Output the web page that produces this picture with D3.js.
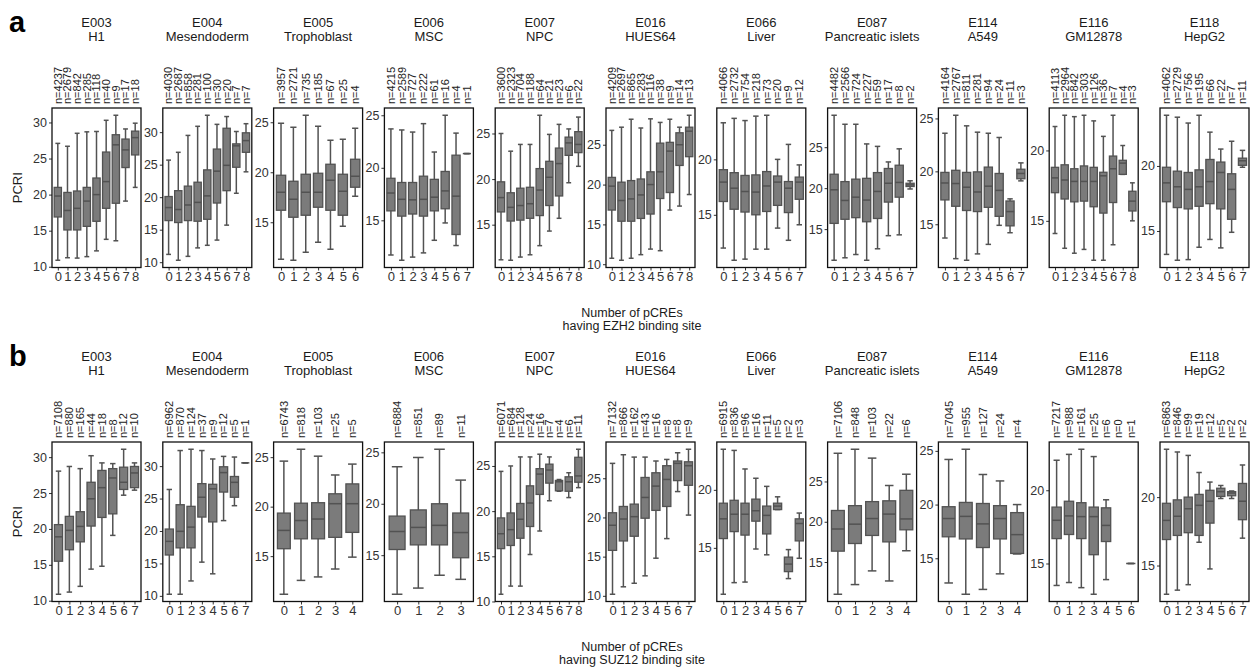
<!DOCTYPE html>
<html>
<head>
<meta charset="utf-8">
<script src="https://cdn.jsdelivr.net/npm/d3@7"></script>
<style>
  html, body { margin: 0; padding: 0; background: #fff; }
  svg text { font-family: "Liberation Sans", Arial, Helvetica, sans-serif; }
</style>
</head>
<body>
<svg id="chart" width="1250" height="670"></svg>
<script>
// Roadmap epigenomes shown in each row
const cellLines = ["E003", "E004", "E005", "E006", "E007", "E016", "E066", "E087", "E114", "E116", "E118"];
const cellTypes = ["H1", "Mesendoderm", "Trophoblast", "MSC", "NPC", "HUES64", "Liver", "Pancreatic islets", "A549", "GM12878", "HepG2"];

// Group sizes: number of pCREs with 0,1,2,... EZH2 binding sites
const ezh2Counts = [
  [4237, 2679, 842, 285, 118, 40, 9, 17, 18],
  [4030, 2687, 858, 281, 100, 30, 20, 7, 7],
  [3957, 2721, 735, 185, 67, 25, 4],
  [4215, 2589, 727, 222, 61, 16, 4, 1],
  [3600, 2323, 704, 188, 64, 21, 23, 6, 22],
  [4209, 2697, 865, 283, 116, 38, 9, 14, 13],
  [4066, 2732, 754, 218, 73, 20, 9, 12],
  [4482, 2566, 724, 227, 59, 17, 8, 2],
  [4164, 2767, 811, 281, 94, 24, 11, 3],
  [4113, 2964, 842, 303, 126, 36, 7, 4, 3],
  [4062, 2729, 756, 195, 66, 22, 7, 11]
];

// PCRI box statistics per group: [lower whisker, Q1, median, Q3, upper whisker]
const ezh2Stats = [
  [[10.9, 16.9, 19.8, 21.0, 27.1], [11.25, 15.1, 17.8, 20.3, 26.7], [11.2, 15.1, 18.1, 20.5, 28.5],
   [11.4, 15.6, 19.1, 21.0, 28.7], [12.2, 16.3, 20.0, 22.3, 28.75], [13.8, 18.1, 21.8, 25.9, 30.3],
   [13.6, 18.8, 26.9, 28.3, 31.0], [19.1, 23.75, 26.2, 27.7, 29.1], [21.0, 25.5, 27.9, 28.8, 29.9]],
  [[11.2, 16.4, 18.4, 20.1, 25.7], [10.3, 16.1, 18.1, 21.0, 26.9], [10.9, 16.4, 18.8, 21.7, 29.5],
   [12.2, 16.3, 19.2, 22.3, 30.9], [12.6, 16.6, 20.2, 24.2, 32.6], [13.4, 19.1, 24.0, 27.4, 31.2],
   [15.7, 21.0, 24.9, 30.6, 32.4], [20.6, 24.6, 27.9, 28.2, 30.1], [23.9, 26.9, 28.7, 29.9, 31.3]],
  [[11.3, 16.2, 18.0, 19.7, 24.9], [11.2, 15.5, 17.3, 19.1, 24.5], [12.0, 15.7, 18.0, 19.8, 25.7],
   [13.0, 16.5, 18.0, 19.9, 24.6], [12.3, 16.2, 19.2, 20.8, 23.2], [14.6, 15.7, 18.1, 19.8, 23.3],
   [17.6, 18.5, 19.6, 21.3, 24.4]],
  [[11.7, 15.9, 17.6, 19.0, 23.7], [11.2, 15.4, 17.0, 18.6, 23.6], [11.5, 15.6, 16.95, 18.6, 23.4],
   [11.9, 15.4, 17.0, 19.2, 24.2], [13.1, 15.9, 17.2, 18.9, 21.5], [14.75, 16.1, 17.8, 19.65, 25.0],
   [12.6, 13.65, 17.3, 21.2, 23.3], [21.35, 21.35, 21.35, 21.35, 21.35]],
  [[11.15, 16.4, 17.97, 19.7, 25.0], [11.1, 15.4, 16.9, 18.5, 23.06], [11.45, 15.5, 17.1, 19.0, 23.8],
   [11.7, 15.7, 17.3, 19.1, 23.8], [12.7, 16.0, 18.8, 21.15, 27.0], [14.3, 17.1, 20.2, 21.95, 24.9],
   [15.7, 18.15, 21.7, 23.4, 26.0], [19.6, 22.6, 23.97, 24.6, 25.5], [21.4, 22.9, 23.8, 25.2, 26.8]],
  [[10.75, 16.8, 19.8, 20.9, 26.8], [10.5, 15.4, 18.0, 20.3, 27.2], [10.75, 15.4, 18.2, 20.5, 28.2],
   [11.2, 15.75, 18.7, 20.7, 27.1], [11.9, 16.3, 20.0, 21.6, 28.25], [11.7, 18.25, 21.6, 25.2, 27.8],
   [16.8, 19.0, 24.2, 25.3, 28.2], [17.3, 22.4, 25.0, 26.5, 27.2], [18.75, 23.5, 26.7, 27.2, 28.7]],
  [[12.0, 16.2, 17.95, 19.07, 23.3], [10.9, 15.5, 17.4, 18.8, 23.7], [11.0, 15.25, 17.1, 18.55, 23.5],
   [11.9, 15.0, 17.05, 18.6, 23.9], [11.9, 15.3, 17.6, 18.9, 23.98], [13.8, 15.85, 17.95, 18.5, 20.0],
   [12.7, 15.2, 17.4, 18.0, 21.35], [14.1, 16.4, 17.95, 18.4, 19.5]],
  [[11.2, 15.7, 19.8, 21.7, 28.9], [11.5, 16.2, 18.5, 20.8, 27.8], [11.9, 16.4, 18.9, 21.1, 27.8],
   [11.2, 15.9, 18.55, 21.2, 25.4], [12.6, 16.3, 19.6, 21.9, 25.1], [14.2, 18.3, 20.6, 22.4, 23.2],
   [14.3, 18.9, 20.7, 22.8, 24.8], [19.9, 20.2, 20.4, 20.6, 20.9]],
  [[13.7, 17.3, 18.9, 19.9, 23.6], [11.75, 16.7, 18.85, 20.1, 25.3], [11.6, 16.3, 18.5, 19.9, 24.3],
   [12.2, 16.2, 18.05, 19.95, 23.7], [13.1, 16.6, 18.6, 20.4, 23.6], [14.9, 15.75, 18.2, 19.8, 23.2],
   [14.2, 14.85, 16.2, 17.2, 17.4], [19.1, 19.3, 19.8, 20.2, 20.8]],
  [[14.1, 17.0, 18.05, 18.8, 21.7], [13.05, 16.55, 17.9, 18.98, 22.5], [12.7, 16.35, 17.8, 18.7, 22.4],
   [12.97, 16.4, 17.8, 18.9, 22.5], [12.2, 16.0, 17.8, 18.8, 22.1], [12.2, 15.55, 18.2, 18.45, 21.0],
   [13.3, 16.3, 18.7, 19.6, 22.5], [18.3, 18.3, 19.1, 19.3, 20.35], [15.0, 15.7, 16.4, 17.1, 17.7]],
  [[13.2, 17.25, 18.7, 19.9, 23.9], [12.75, 16.8, 18.4, 19.6, 23.75], [12.8, 16.7, 18.2, 19.5, 23.3],
   [13.75, 16.9, 18.4, 19.7, 23.9], [14.35, 17.1, 18.8, 20.5, 22.6], [13.7, 16.7, 19.5, 20.3, 21.3],
   [14.9, 15.9, 18.2, 19.4, 21.9], [19.9, 20.05, 20.4, 20.6, 21.2]]
];

// Group sizes: number of pCREs with 0,1,2,... SUZ12 binding sites
const suz12Counts = [
  [7108, 880, 165, 44, 18, 8, 12, 10],
  [6962, 870, 124, 37, 9, 12, 5, 1],
  [6743, 818, 103, 25, 5],
  [6884, 851, 89, 11],
  [6071, 684, 128, 24, 16, 7, 4, 6, 11],
  [7132, 866, 162, 43, 16, 8, 8, 9],
  [6915, 836, 96, 16, 11, 5, 2, 3],
  [7106, 848, 103, 22, 6],
  [7045, 955, 127, 24, 4],
  [7217, 988, 161, 25, 6, 0, 1],
  [6863, 846, 99, 19, 12, 5, 2, 2]
];

const suz12Stats = [
  [[10.9, 15.5, 18.9, 20.6, 28.05], [11.2, 17.1, 19.8, 21.75, 28.7], [12.0, 18.2, 20.35, 22.4, 28.4],
   [14.4, 20.4, 24.2, 26.5, 30.2], [14.8, 21.6, 25.75, 28.15, 29.2], [19.1, 22.1, 27.1, 28.4, 29.1],
   [24.7, 25.5, 26.5, 28.6, 31.1], [25.4, 25.75, 27.8, 28.7, 29.2]],
  [[10.25, 16.3, 18.4, 20.3, 26.4], [10.25, 17.4, 19.95, 24.05, 32.4], [12.3, 17.4, 20.6, 23.8, 32.6],
   [15.2, 22.15, 25.2, 27.3, 32.4], [13.4, 21.4, 26.5, 27.2, 31.1], [21.6, 26.0, 29.0, 29.9, 31.5],
   [23.9, 25.2, 27.5, 28.4, 31.4], [30.5, 30.5, 30.5, 30.5, 30.5]],
  [[11.15, 15.75, 17.6, 19.35, 24.6], [12.55, 16.75, 18.6, 20.35, 25.8], [12.9, 16.75, 18.75, 20.4, 25.1],
   [13.7, 16.9, 20.3, 21.3, 23.2], [14.9, 17.4, 20.3, 22.3, 24.3]],
  [[11.2, 15.55, 17.3, 18.8, 23.6], [11.8, 16.0, 17.7, 19.4, 24.5], [13.05, 16.0, 17.9, 20.0, 25.3],
   [12.65, 14.75, 17.2, 19.1, 22.3]],
  [[10.8, 15.85, 17.5, 19.25, 24.4], [11.7, 16.2, 17.95, 19.8, 25.0], [11.7, 17.0, 19.1, 20.85, 26.0],
   [15.2, 18.3, 20.9, 22.8, 26.0], [17.8, 21.85, 24.1, 24.7, 26.3], [21.15, 23.1, 24.55, 25.2, 26.0],
   [22.2, 22.25, 23.25, 23.4, 23.5], [21.5, 22.2, 23.25, 23.8, 24.25], [22.6, 23.2, 23.9, 25.96, 26.85]],
  [[10.2, 15.8, 19.0, 20.6, 26.9], [11.15, 17.0, 19.8, 21.4, 28.0], [11.6, 17.6, 20.1, 21.7, 27.7],
   [12.55, 19.9, 22.55, 25.1, 27.7], [14.8, 20.9, 24.0, 25.7, 27.2], [17.3, 21.4, 24.85, 26.6, 27.4],
   [23.3, 24.7, 26.9, 27.2, 28.25], [20.3, 24.1, 26.6, 27.1, 28.7]],
  [[11.0, 15.8, 17.5, 18.85, 23.5], [12.0, 16.4, 17.9, 19.1, 23.4], [12.05, 16.1, 17.9, 18.85, 21.8],
   [14.9, 17.3, 18.2, 19.2, 21.0], [14.4, 16.2, 17.8, 18.6, 20.3], [18.3, 18.3, 18.6, 18.85, 19.4],
   [12.35, 12.95, 13.6, 14.2, 14.85], [14.1, 15.6, 17.1, 17.5, 18.0]],
  [[11.0, 16.35, 19.1, 21.4, 28.5], [12.2, 17.3, 19.7, 22.0, 29.0], [13.9, 18.3, 20.4, 22.5, 27.9],
   [12.65, 17.5, 20.95, 22.6, 24.5], [16.4, 19.0, 20.35, 23.9, 25.9]],
  [[12.7, 17.0, 18.7, 19.8, 24.2], [11.65, 16.8, 18.9, 20.2, 25.15], [12.1, 16.0, 18.2, 20.1, 22.8],
   [13.55, 16.8, 18.7, 19.9, 22.2], [15.4, 15.45, 17.2, 19.25, 20.0]],
  [[13.5, 16.7, 17.95, 18.85, 22.05], [13.7, 16.98, 18.25, 19.25, 22.45], [13.35, 16.7, 18.2, 19.15, 22.8],
   [12.9, 15.6, 18.2, 18.85, 22.3], [13.9, 16.5, 17.6, 18.8, 19.35], null,
   [15.0, 15.0, 15.0, 15.0, 15.0]],
  [[12.9, 16.9, 18.3, 19.55, 23.5], [13.2, 17.2, 18.6, 19.8, 23.3], [13.6, 17.4, 19.15, 20.0, 23.05],
   [16.7, 17.2, 19.4, 20.2, 21.8], [14.75, 18.1, 19.7, 20.5, 21.1], [19.9, 20.05, 20.4, 20.65, 20.85],
   [19.9, 20.1, 20.3, 20.4, 20.45], [17.0, 18.35, 19.7, 21.0, 22.35]]
];

const rowLetters = ["a", "b"];
const factorNames = ["EZH2", "SUZ12"];
const yLabel = "PCRI";

// ---------------------------------------------------------------- layout
const svg = d3.select("#chart");
svg.append("rect").attr("width", 1250).attr("height", 670).attr("fill", "#fff");

const panelLeft = 52, panelPitch = 110.8, panelWidth = 89;
const rowTops = [108, 442], panelHeight = 159.5;
const boxFill = "#7b7b7b", boxLine = "#525252";

const rows = [
  { counts: ezh2Counts, stats: ezh2Stats },
  { counts: suz12Counts, stats: suz12Stats }
];

rows.forEach((row, r) => {
  const top = rowTops[r], bottom = top + panelHeight;
  const g = svg.append("g");

  // row letter
  g.append("text").attr("x", 9).attr("y", top - 76)
    .attr("font-size", 29).attr("font-weight", "bold").attr("fill", "#000")
    .text(rowLetters[r]);

  // y axis title
  g.append("text")
    .attr("transform", `translate(22,${(top + bottom) / 2}) rotate(-90)`)
    .attr("text-anchor", "middle").attr("font-size", 13).attr("fill", "#1a1a1a")
    .text(yLabel);

  // x axis title (two lines)
  const xt = g.append("text").attr("text-anchor", "middle").attr("font-size", 12.5).attr("fill", "#1a1a1a");
  xt.append("tspan").attr("x", 632).attr("y", bottom + 49).text("Number of pCREs");
  xt.append("tspan").attr("x", 632).attr("y", bottom + 62.5).text(`having ${factorNames[r]} binding site`);

  cellLines.forEach((cl, p) => {
    const counts = row.counts[p];
    const stats = row.stats[p];
    const n = counts.length;
    const left = panelLeft + p * panelPitch;
    const right = left + panelWidth;
    const pg = g.append("g");

    // y scale: whisker range expanded by 5% on each side
    const present = stats.filter(s => s);
    const lo = d3.min(present, s => s[0]), hi = d3.max(present, s => s[4]);
    const pad = (hi - lo) * 0.05;
    const y = d3.scaleLinear().domain([lo - pad, hi + pad]).range([bottom, top]);
    const x = d3.scaleLinear().domain([-0.6, n - 0.4]).range([left, right]);
    const unit = x(1) - x(0);

    // strip titles
    pg.append("text").attr("x", (left + right) / 2).attr("y", top - 81.5)
      .attr("text-anchor", "middle").attr("font-size", 13).attr("fill", "#1a1a1a").text(cl);
    pg.append("text").attr("x", (left + right) / 2).attr("y", top - 67.5)
      .attr("text-anchor", "middle").attr("font-size", 13).attr("fill", "#1a1a1a").text(cellTypes[p]);

    // group size labels
    pg.selectAll("text.nlab").data(counts).join("text")
      .attr("class", "nlab")
      .attr("transform", (d, i) => `translate(${x(i)},${top - 4}) rotate(-90)`)
      .attr("dy", "0.35em").attr("font-size", 11).attr("fill", "#222")
      .text(d => `n=${d}`);

    // axes
    const ticks = d3.range(Math.ceil(y.domain()[0] / 5) * 5, y.domain()[1] + 1e-9, 5);
    const ya = pg.append("g").attr("transform", `translate(${left},0)`)
      .call(d3.axisLeft(y).tickValues(ticks).tickSize(3).tickPadding(2).tickFormat(d3.format("d")));
    const xa = pg.append("g").attr("transform", `translate(0,${bottom})`)
      .call(d3.axisBottom(x).tickValues(d3.range(n)).tickSize(3).tickPadding(1).tickFormat(d3.format("d")));
    [ya, xa].forEach(a => {
      a.select(".domain").remove();
      a.selectAll("line").attr("stroke", "#333").attr("stroke-width", 1);
      a.selectAll("text").attr("fill", "#333")
        .attr("font-family", '"Liberation Sans", Arial, sans-serif');
    });
    ya.selectAll("text").attr("font-size", 12.5);
    xa.selectAll("text").attr("font-size", 13);

    // boxes
    const bx = pg.selectAll("g.box").data(stats.map((s, i) => ({ s, i })).filter(d => d.s))
      .join("g").attr("class", "box");
    bx.append("line") // whisker
      .attr("x1", d => x(d.i)).attr("x2", d => x(d.i))
      .attr("y1", d => y(d.s[0])).attr("y2", d => y(d.s[4]))
      .attr("stroke", boxLine).attr("stroke-width", 1.5);
    [0, 4].forEach(k => {
      bx.append("line") // whisker caps
        .attr("x1", d => x(d.i) - unit * 0.25).attr("x2", d => x(d.i) + unit * 0.25)
        .attr("y1", d => y(d.s[k])).attr("y2", d => y(d.s[k]))
        .attr("stroke", boxLine).attr("stroke-width", 1.5);
    });
    bx.append("rect")
      .attr("x", d => x(d.i) - unit * 0.375).attr("width", unit * 0.75)
      .attr("y", d => y(d.s[3])).attr("height", d => y(d.s[1]) - y(d.s[3]))
      .attr("fill", boxFill).attr("stroke", boxLine).attr("stroke-width", 1.3);
    bx.append("line") // median
      .attr("x1", d => x(d.i) - unit * 0.375).attr("x2", d => x(d.i) + unit * 0.375)
      .attr("y1", d => y(d.s[2])).attr("y2", d => y(d.s[2]))
      .attr("stroke", boxLine).attr("stroke-width", 1.5);

    // panel frame
    pg.append("rect").attr("x", left).attr("y", top).attr("width", panelWidth).attr("height", panelHeight)
      .attr("fill", "none").attr("stroke", "#111").attr("stroke-width", 1.3);
  });
});
</script>
</body>
</html>
